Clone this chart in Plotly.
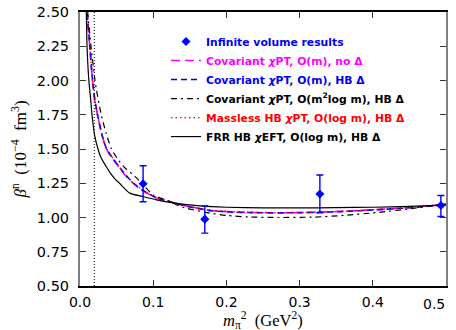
import plotly.graph_objects as go

# ---- data ----
data_x = [0.0862, 0.1705, 0.3277, 0.4930]
data_y = [1.246, 0.988, 1.171, 1.088]
err_plus = [0.132, 0.097, 0.139, 0.073]
err_minus = [0.131, 0.102, 0.136, 0.081]

phys_mpi2 = 0.0195

# Covariant chiPT, O(m), no Delta (magenta)
cov_nod_x = [0.0088, 0.0096, 0.0133, 0.0170, 0.0200, 0.0238, 0.0300, 0.0360, 0.0430, 0.0500, 0.0600, 0.0725, 0.0860, 0.1045, 0.1230, 0.1400, 0.1640, 0.1800, 0.2200, 0.2700, 0.3200, 0.3600, 0.4000, 0.4500, 0.5000]
cov_nod_y = [2.62, 2.50, 2.25, 2.00, 1.86, 1.75, 1.60, 1.50, 1.44, 1.39, 1.32, 1.25, 1.195, 1.142, 1.115, 1.090, 1.065, 1.050, 1.038, 1.034, 1.038, 1.045, 1.056, 1.073, 1.097]

# Covariant chiPT, O(m), HB Delta (blue)
cov_hb_x = [0.0088, 0.0096, 0.0133, 0.0170, 0.0200, 0.0238, 0.0300, 0.0360, 0.0430, 0.0500, 0.0600, 0.0725, 0.0860, 0.1045, 0.1230, 0.1400, 0.1640, 0.1800, 0.2200, 0.2700, 0.3200, 0.3600, 0.4000, 0.4500, 0.5000]
cov_hb_y = [2.63, 2.51, 2.26, 2.01, 1.87, 1.755, 1.605, 1.505, 1.445, 1.395, 1.325, 1.253, 1.198, 1.143, 1.115, 1.089, 1.063, 1.049, 1.037, 1.034, 1.037, 1.044, 1.055, 1.071, 1.095]

# Covariant chiPT, O(m^2 log m), HB Delta (black dash-dot)
cov_m2_x = [0.0095, 0.0105, 0.0150, 0.0205, 0.0224, 0.0290, 0.0360, 0.0430, 0.0510, 0.0600, 0.0750, 0.0860, 0.1000, 0.1230, 0.1400, 0.1710, 0.2000, 0.2300, 0.2700, 0.3200, 0.3600, 0.4050, 0.4500, 0.5000]
cov_m2_y = [2.62, 2.50, 2.25, 2.00, 1.934, 1.75, 1.61, 1.50, 1.43, 1.37, 1.30, 1.24, 1.165, 1.117, 1.075, 1.038, 1.015, 1.004, 1.000, 1.003, 1.015, 1.036, 1.063, 1.100]

# Massless HB chiPT, O(log m), HB Delta (red dotted)
hb_x = [0.0088, 0.0096, 0.0133, 0.0170, 0.0200, 0.0238, 0.0300, 0.0360, 0.0430, 0.0500, 0.0600, 0.0725, 0.0860, 0.1045, 0.1230, 0.1400, 0.1640, 0.1800, 0.2200, 0.2700, 0.3200, 0.3600, 0.4000, 0.4500, 0.5000]
hb_y = [2.63, 2.51, 2.26, 2.01, 1.87, 1.755, 1.605, 1.505, 1.447, 1.397, 1.327, 1.255, 1.20, 1.145, 1.117, 1.091, 1.066, 1.052, 1.040, 1.036, 1.039, 1.046, 1.057, 1.074, 1.098]

# FRR HB chiEFT, O(log m), HB Delta (black solid)
frr_x = [0.0078, 0.0086, 0.0096, 0.0121, 0.0146, 0.0164, 0.0200, 0.0246, 0.0280, 0.0360, 0.0420, 0.0480, 0.0540, 0.0680, 0.0860, 0.1045, 0.1230, 0.1640, 0.2000, 0.2500, 0.3000, 0.3500, 0.4000, 0.4500, 0.5000]
frr_y = [2.65, 2.50, 2.25, 2.00, 1.86, 1.75, 1.60, 1.50, 1.446, 1.37, 1.32, 1.28, 1.25, 1.178, 1.153, 1.129, 1.110, 1.085, 1.075, 1.070, 1.070, 1.072, 1.075, 1.081, 1.090]

x_ticks = [0.0, 0.1, 0.2, 0.3, 0.4, 0.5]
x_tick_labels = ["0.0", "0.1", "0.2", "0.3", "0.4", ""]   # last label placed by annotation (nudged inside)
x_last_label = "0.5"
y_ticks = [0.50, 0.75, 1.00, 1.25, 1.50, 1.75, 2.00, 2.25, 2.50]
y_tick_labels = ["0.50", "0.75", "1.00", "1.25", "1.50", "1.75", "2.00", "2.25", "2.50"]

MAG, BLU, RED, BLK = "#ff00ff", "#0000ff", "#ff0000", "#000000"
SANS = "DejaVu Sans, Liberation Sans, Arial"
SERIF = "Liberation Serif, Times New Roman, serif"

def lab(txt, col):
    return f'<b><span style="color:{col}">{txt}</span></b>'

fig = go.Figure()

def curve(xs, ys, line, name, rank):
    fig.add_trace(go.Scatter(
        x=xs, y=ys, mode="lines", line_shape="spline",
        line=dict(smoothing=0.6, **line), name=name, legendrank=rank))

curve(cov_nod_x, cov_nod_y, dict(color=MAG, width=1.6, dash="9px,5px"),
      lab("Covariant <i>χ</i>PT, O(m), no Δ", MAG), 2)
curve(cov_hb_x, cov_hb_y, dict(color=BLU, width=1.6, dash="6px,4px"),
      lab("Covariant <i>χ</i>PT, O(m), HB Δ", BLU), 3)
curve(cov_m2_x, cov_m2_y, dict(color=BLK, width=1.2, dash="6px,4px,2px,4px"),
      lab("Covariant <i>χ</i>PT, O(m<sup>2</sup>log m), HB Δ", BLK), 4)
curve(hb_x, hb_y, dict(color=RED, width=1.3, dash="1.5px,3px"),
      lab("Massless HB <i>χ</i>PT, O(log m), HB Δ", RED), 5)
curve(frr_x, frr_y, dict(color=BLK, width=1.2),
      lab("FRR HB <i>χ</i>EFT, O(log m), HB Δ", BLK), 6)

fig.add_trace(go.Scatter(
    x=data_x, y=data_y, mode="markers",
    marker=dict(symbol="diamond", color=BLU, size=7),
    error_y=dict(type="data", array=err_plus, arrayminus=err_minus,
                 color=BLU, thickness=1.4, width=3.5),
    name=lab("Infinite volume results", BLU), legendrank=1))

fig.add_vline(x=phys_mpi2, line=dict(color=BLK, width=1, dash="1px,2px"))

fig.update_layout(
    width=456, height=330,
    margin=dict(l=80, r=10, t=12, b=44, autoexpand=False),
    plot_bgcolor="white", paper_bgcolor="white",
    showlegend=True,
    legend=dict(x=0.235, y=0.945, xanchor="left", yanchor="top",
                bgcolor="rgba(0,0,0,0)", borderwidth=0,
                font=dict(family=SANS, size=10.8, color="black"),
                itemwidth=30, tracegroupgap=0, traceorder="normal"),
    annotations=[
        dict(text=x_last_label, x=x_ticks[-1], xref="x", y=0, yref="paper",
             xanchor="right", yanchor="top", xshift=1, yshift=-8, showarrow=False,
             font=dict(family=SANS, size=14, color="black")),
        dict(text="<i>m</i><sub>π</sub><sup>2</sup>  (GeV<sup>2</sup>)",
             x=0.5, xref="paper", y=0, yref="paper", xanchor="center", yanchor="top",
             yshift=-21, showarrow=False,
             font=dict(family=SERIF, size=16.5, color="black")),
    ],
)

fig.update_xaxes(
    range=[0, 0.5], tickvals=x_ticks, ticktext=x_tick_labels,
    automargin=False,
    ticks="inside", ticklen=6, tickwidth=1.2, tickcolor="#333",
    showline=True, linecolor="black", linewidth=1.5, mirror="ticks",
    showgrid=False, zeroline=False,
    tickfont=dict(family=SANS, size=14, color="black"),
    ticklabelstandoff=2,
)
fig.update_yaxes(
    range=[0.5, 2.5], tickvals=y_ticks, ticktext=y_tick_labels,
    automargin=False,
    ticks="inside", ticklen=6, tickwidth=1.2, tickcolor="#333",
    showline=True, linecolor="#808080", linewidth=2, mirror="ticks",
    showgrid=False, zeroline=False,
    tickfont=dict(family=SANS, size=14.5, color="black"),
    ticklabelstandoff=6,
    title=dict(text="<i>β</i><sup>n</sup>  (10<sup>−4</sup>  fm<sup>3</sup>)",
               font=dict(family=SERIF, size=17, color="black"),
               standoff=6),
)

fig.write_html("out.html")
